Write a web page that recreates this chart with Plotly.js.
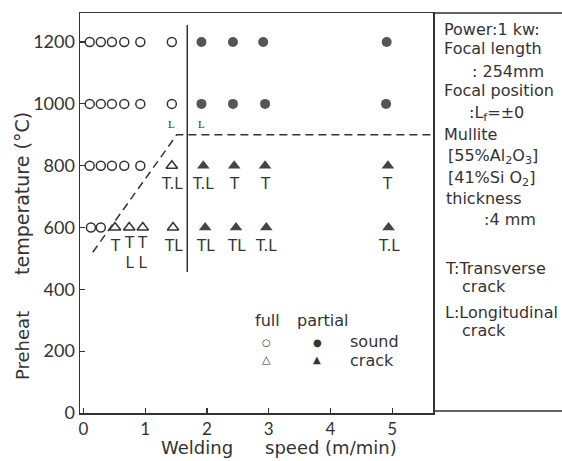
<!DOCTYPE html>
<html>
<head>
<meta charset="utf-8">
<script src="https://cdn.plot.ly/plotly-3.0.1.min.js"></script>
<style>html,body{margin:0;padding:0;background:#fff;}</style>
</head>
<body>
<div id="chart" style="width:562px;height:461px;"></div>
<script>
// ---------- data ----------
const xTicks = [0, 1, 2, 3, 4, 5];
const yTicks = [0, 200, 400, 600, 800, 1000, 1200];

// full penetration, sound (open circles)
const fullSoundX = [0.1, 0.28, 0.46, 0.66, 0.92, 1.43,
                    0.1, 0.28, 0.46, 0.66, 0.92, 1.43,
                    0.1, 0.28, 0.46, 0.66, 0.92,
                    0.12, 0.28];
const fullSoundY = [1200, 1200, 1200, 1200, 1200, 1200,
                    1000, 1000, 1000, 1000, 1000, 1000,
                    800, 800, 800, 800, 800,
                    600, 600];
const fullSoundLabel = ['', '', '', '', '', '',
                        '', '', '', '', '', 'L',
                        '', '', '', '', '',
                        '', ''];

// full penetration, crack (open triangles)
const fullCrackX = [1.43, 0.51, 0.74, 0.96, 1.45];
const fullCrackY = [800, 600, 600, 600, 600];
const fullCrackLabel = ['T.L', 'T', 'T<br>L', 'T<br>L', 'TL'];

// partial penetration, sound (filled circles)
const partSoundX = [1.91, 2.42, 2.91, 4.91, 1.91, 2.42, 2.94, 4.9];
const partSoundY = [1200, 1200, 1200, 1200, 1000, 1000, 1000, 1000];
const partSoundLabel = ['', '', '', '', 'L', '', '', ''];

// partial penetration, crack (filled triangles)
const partCrackX = [1.94, 2.44, 2.94, 4.93, 1.97, 2.47, 2.96, 4.94];
const partCrackY = [800, 800, 800, 800, 600, 600, 600, 600];
const partCrackLabel = ['T.L', 'T', 'T', 'T', 'TL', 'TL', 'T.L', 'T.L'];

// boundary lines
const fullPartX = [1.68, 1.68];
const fullPartY = [456, 1255];
const crackLimitX = [0.15, 1.51, 5.66];
const crackLimitY = [520, 900, 900];

const boxLines = [
  {t: 'Power:1 kw:', x: 442, y: 29},
  {t: 'Focal length', x: 442, y: 49},
  {t: ': 254mm', x: 470, y: 71},
  {t: 'Focal position', x: 442, y: 91},
  {t: ':L<sub>f</sub>=±0', x: 467, y: 113},
  {t: 'Mullite', x: 442, y: 134},
  {t: '[55%Al<sub>2</sub>O<sub>3</sub>]', x: 446, y: 156},
  {t: '[41%Si O<sub>2</sub>]', x: 446, y: 178},
  {t: 'thickness', x: 444, y: 198},
  {t: ':4 mm', x: 482, y: 219},
  {t: 'T:Transverse', x: 443, y: 268},
  {t: 'crack', x: 460, y: 286},
  {t: 'L:Longitudinal', x: 443, y: 312},
  {t: 'crack', x: 460, y: 330}
];

// ---------- layout helpers ----------
const L = 80, R = 433, T = 13, B = 413;
const px = v => (v - L) / (R - L);
const py = v => (B - v) / (B - T);
const FONT = '"DejaVu Sans", sans-serif';
const NUMFONT = 'Lato, "DejaVu Sans", sans-serif';
const INK = '#333';

const traces = [
  {x: fullPartX, y: fullPartY, mode: 'lines', line: {color: INK, width: 1.5}, hoverinfo: 'skip'},
  {x: crackLimitX, y: crackLimitY, mode: 'lines', line: {color: INK, width: 1.5, dash: '8px,5px'}, hoverinfo: 'skip'},
  {x: fullSoundX, y: fullSoundY, mode: 'markers', marker: {symbol: 'circle-open', size: 9, color: INK, line: {width: 1.5}}},
  {x: fullCrackX, y: fullCrackY, mode: 'markers', marker: {symbol: 'triangle-up-open', size: 10, color: INK, line: {width: 1.5}}},
  {x: partSoundX, y: partSoundY, mode: 'markers', marker: {symbol: 'circle', size: 10, color: '#555'}},
  {x: partCrackX, y: partCrackY, mode: 'markers', marker: {symbol: 'triangle-up', size: 11, color: '#444'}}
];

const annotations = [];
function addLabels(xs, ys, labels) {
  labels.forEach((lab, i) => {
    if (!lab) return;
    const small = lab === 'L';
    const two = lab.indexOf('<br>') >= 0;
    annotations.push({
      x: xs[i], y: ys[i], xref: 'x', yref: 'y', text: lab, showarrow: false,
      yshift: small ? -20 : (two ? -25 : -18),
      font: small ? {family: '"Liberation Serif", serif', size: 11, color: INK}
                  : {family: FONT, size: 15, color: INK},
      xanchor: 'center', yanchor: 'middle'
    });
  });
}
addLabels(fullSoundX, fullSoundY, fullSoundLabel);
addLabels(fullCrackX, fullCrackY, fullCrackLabel);
addLabels(partSoundX, partSoundY, partSoundLabel);
addLabels(partCrackX, partCrackY, partCrackLabel);

// right-hand text box
boxLines.forEach(b => annotations.push({
  x: px(b.x), y: py(b.y), xref: 'paper', yref: 'paper', text: b.t, showarrow: false,
  xanchor: 'left', yanchor: 'middle', font: {family: FONT, size: 16, color: INK}
}));

// key
const keyText = [
  {t: 'full', x: 267, y: 320, a: 'center'},
  {t: 'partial', x: 323, y: 320, a: 'center'},
  {t: 'sound', x: 348, y: 341, a: 'left'},
  {t: 'crack', x: 348, y: 360, a: 'left'}
];
keyText.forEach(k => annotations.push({
  x: px(k.x), y: py(k.y), xref: 'paper', yref: 'paper', text: k.t, showarrow: false,
  xanchor: k.a, yanchor: 'middle', font: {family: FONT, size: 16, color: INK}
}));
const keySym = [
  {t: '○', x: 266, y: 342, s: 10},
  {t: '●', x: 317, y: 342, s: 10},
  {t: '△', x: 266, y: 359, s: 11},
  {t: '▲', x: 317, y: 359, s: 10}
];
keySym.forEach(k => annotations.push({
  x: px(k.x), y: py(k.y), xref: 'paper', yref: 'paper', text: k.t, showarrow: false,
  xanchor: 'center', yanchor: 'middle', font: {family: '"DejaVu Sans", sans-serif', size: k.s, color: INK}
}));

// axis titles
annotations.push({x: px(197), y: py(448), xref: 'paper', yref: 'paper', text: 'Welding', showarrow: false,
  xanchor: 'center', yanchor: 'middle', font: {family: FONT, size: 18, color: INK}});
annotations.push({x: px(331), y: py(448), xref: 'paper', yref: 'paper', text: 'speed (m/min)', showarrow: false,
  xanchor: 'center', yanchor: 'middle', font: {family: FONT, size: 18, color: INK}});
annotations.push({x: px(22), y: py(345), xref: 'paper', yref: 'paper', text: 'Preheat', showarrow: false,
  textangle: -90, xanchor: 'center', yanchor: 'middle', font: {family: FONT, size: 18, color: INK}});
annotations.push({x: px(22), y: py(193), xref: 'paper', yref: 'paper', text: 'temperature (°C)', showarrow: false,
  textangle: -90, xanchor: 'center', yanchor: 'middle', font: {family: FONT, size: 19, color: INK}});

const shapes = [
  {type: 'line', xref: 'paper', yref: 'paper', x0: 1, x1: px(562), y0: 1, y1: 1, line: {color: INK, width: 1.5}},
  {type: 'line', xref: 'paper', yref: 'paper', x0: 1, x1: px(562), y0: py(411), y1: py(411), line: {color: INK, width: 1.5}}
];

const layout = {
  width: 562, height: 461,
  margin: {l: L, r: 562 - R, t: T, b: 461 - B, pad: 0},
  paper_bgcolor: '#fff', plot_bgcolor: '#fff',
  showlegend: false,
  xaxis: {
    range: [-0.057, 5.66], tickvals: xTicks, ticktext: xTicks.map(String),
    ticks: 'inside', ticklen: 5, tickwidth: 1.2, tickcolor: INK,
    showline: true, mirror: true, linecolor: INK, linewidth: 1.5,
    showgrid: false, zeroline: false,
    tickfont: {family: NUMFONT, size: 17, color: INK}
  },
  yaxis: {
    range: [0, 1294], tickvals: yTicks, ticktext: yTicks.map(String),
    ticks: 'inside', ticklen: 5, tickwidth: 1.2, tickcolor: INK,
    showline: true, mirror: true, linecolor: INK, linewidth: 1.5,
    showgrid: false, zeroline: false,
    tickfont: {family: NUMFONT, size: 18, color: INK}
  },
  annotations: annotations,
  shapes: shapes
};

Plotly.newPlot('chart', traces, layout, {staticPlot: true, displayModeBar: false});
</script>
</body>
</html>
